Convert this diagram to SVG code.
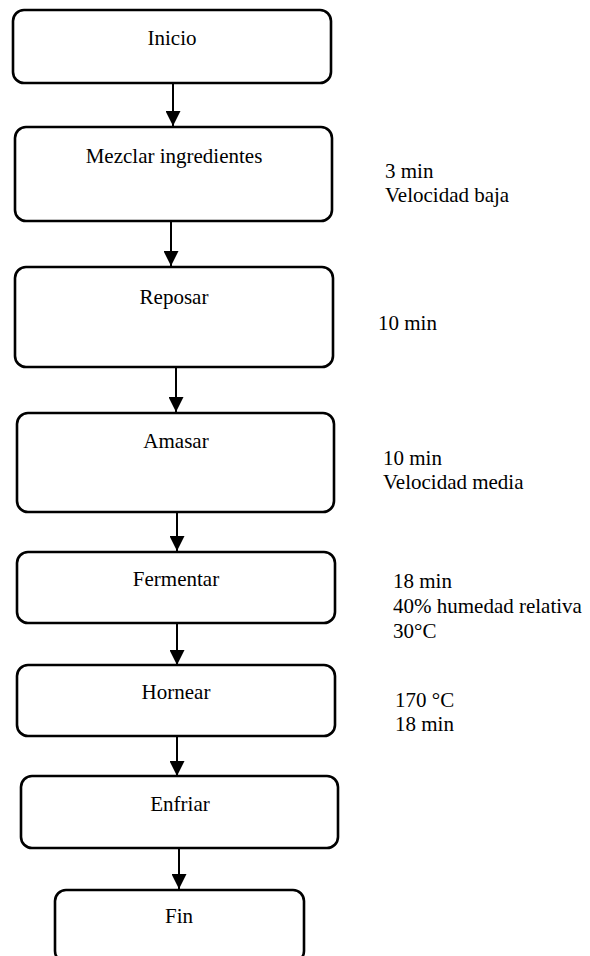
<svg xmlns="http://www.w3.org/2000/svg" width="590" height="956" viewBox="0 0 590 956">
<style>
.box{fill:#fff;stroke:#000;stroke-width:2.6}
.t{font-family:"Liberation Serif","Times New Roman",serif;font-size:21px;fill:#000}
.c{text-anchor:middle}
.ln{stroke:#000;stroke-width:2;fill:none}
</style>
<defs>
<marker id="ah" markerUnits="userSpaceOnUse" markerWidth="16" markerHeight="15" refX="15" refY="7.5" orient="auto">
<path d="M0,0 L15,7.5 L0,15 Z" fill="#000"/>
</marker>
</defs>
<rect width="590" height="956" fill="#fff"/>
<g id="connectors">
<line class="ln" x1="173" y1="83" x2="173" y2="126" marker-end="url(#ah)"/>
<line class="ln" x1="171" y1="221" x2="171" y2="266" marker-end="url(#ah)"/>
<line class="ln" x1="176" y1="367" x2="176" y2="412" marker-end="url(#ah)"/>
<line class="ln" x1="177" y1="508" x2="177" y2="551" marker-end="url(#ah)"/>
<line class="ln" x1="177" y1="623" x2="177" y2="665" marker-end="url(#ah)"/>
<line class="ln" x1="177" y1="736" x2="177" y2="776" marker-end="url(#ah)"/>
<line class="ln" x1="179" y1="848" x2="179" y2="889" marker-end="url(#ah)"/>
</g>
<g id="inicio"><rect class="box" x="13" y="10" width="318" height="73" rx="11"/><text class="t c" x="172" y="45">Inicio</text></g>
<g id="mezclar"><rect class="box" x="15" y="127" width="317" height="94" rx="11"/><text class="t c" x="174" y="163">Mezclar ingredientes</text></g>
<g id="reposar"><rect class="box" x="15" y="267" width="318" height="100" rx="11"/><text class="t c" x="174" y="304">Reposar</text></g>
<g id="amasar"><rect class="box" x="17" y="413" width="317" height="99" rx="11"/><text class="t c" x="176" y="448">Amasar</text></g>
<g id="fermentar"><rect class="box" x="17" y="552" width="318" height="71" rx="11"/><text class="t c" x="176" y="586">Fermentar</text></g>
<g id="hornear"><rect class="box" x="17" y="665" width="318" height="71" rx="11"/><text class="t c" x="176" y="699">Hornear</text></g>
<g id="enfriar"><rect class="box" x="21" y="776" width="317" height="72" rx="11"/><text class="t c" x="180" y="811">Enfriar</text></g>
<g id="fin"><rect class="box" x="55" y="890" width="249" height="72" rx="11"/><text class="t c" x="179" y="923">Fin</text></g>
<g id="notes">
<text class="t" x="385" y="178">3 min</text>
<text class="t" x="385" y="202">Velocidad baja</text>
<text class="t" x="378" y="330">10 min</text>
<text class="t" x="383" y="465">10 min</text>
<text class="t" x="383" y="489">Velocidad media</text>
<text class="t" x="393" y="588">18 min</text>
<text class="t" x="393" y="613">40% humedad relativa</text>
<text class="t" x="393" y="638">30°C</text>
<text class="t" x="395" y="707">170 °C</text>
<text class="t" x="395" y="731">18 min</text>
</g>
</svg>
